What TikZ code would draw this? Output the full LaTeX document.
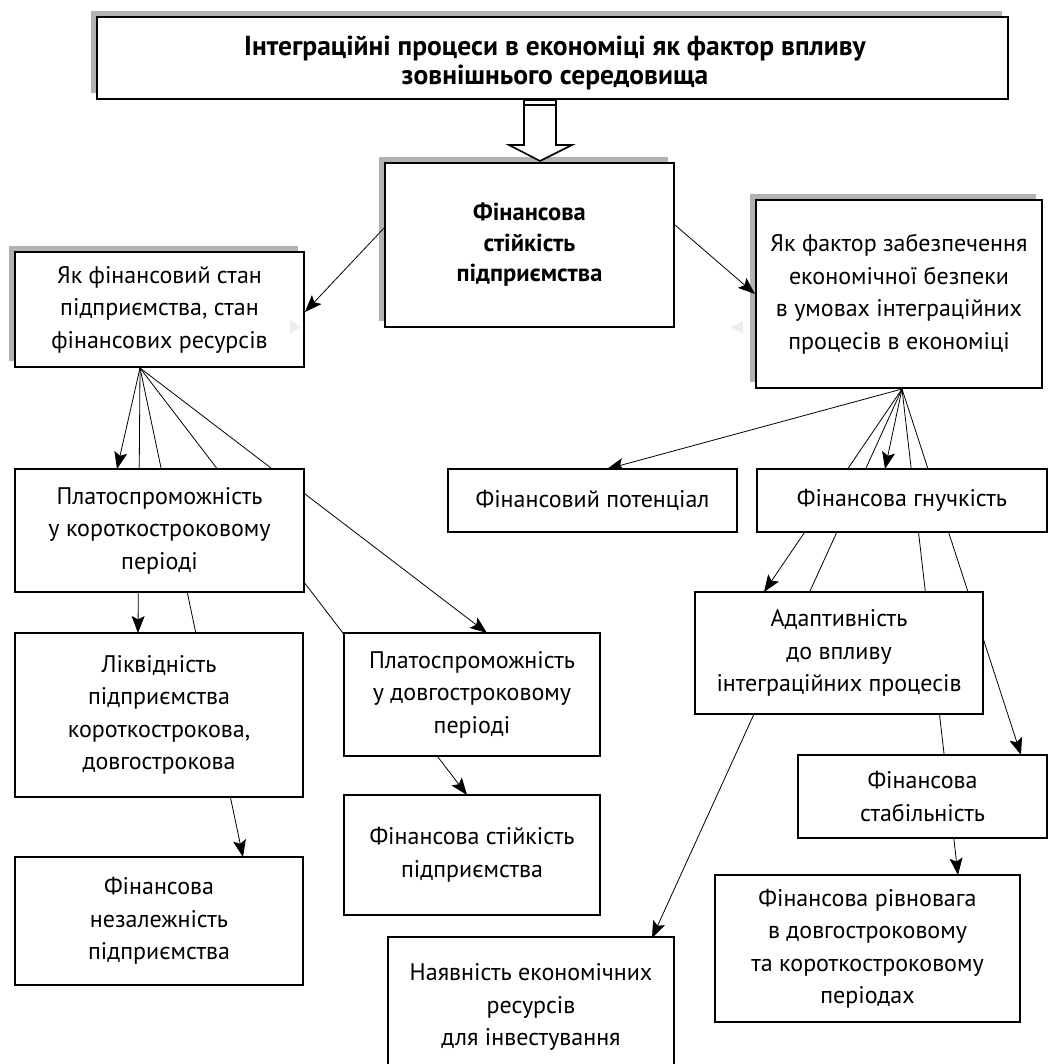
\documentclass[tikz,border=0pt]{standalone}
\usepackage{fontspec}
\setmainfont{PT Sans}
\usetikzlibrary{arrows.meta,shadows,calc}
\pgfdeclarelayer{background}
\pgfsetlayers{background,main}
\begin{document}
\begin{tikzpicture}[x=1pt,y=-1pt,
  txt/.style={font=\fontsize{24}{32.5}\selectfont},
  box/.style={draw=black, line width=2.2pt, fill=white, rectangle, inner sep=0pt, align=center, txt},
  shbox/.style={box, general shadow={fill=black!30, shadow xshift=-6pt, shadow yshift=6pt}},
  conn/.style={line width=0.8pt, black},
  arr/.style={conn, -{Stealth[length=17pt, width=13pt, inset=3.5pt]}},
  faint/.style={fill=black!7, draw=none}
]
\useasboundingbox (0,0) rectangle (1056,1064);

% boxes
\node[shbox, minimum width=911pt, minimum height=82pt] (T) at (552.5,58) {};
\node[align=center, inner sep=0pt, font=\bfseries\fontsize{27.5}{29}\selectfont] (Tt) at (555,63)
  {Інтеграційні процеси в економіці як фактор впливу\\зовнішнього середовища};
\node[shbox, minimum width=289pt, minimum height=164pt, font=\bfseries\fontsize{24.5}{30.5}\selectfont] (C) at (529.5,245)
  {Фінансова\\стійкість\\підприємства};
\node[shbox, minimum width=289pt, minimum height=115pt] (L1) at (159.5,309.5)
  {Як фінансовий стан\\підприємства, стан\\фінансових ресурсів};
\node[shbox, minimum width=286pt, minimum height=188pt] (R1) at (899,294)
  {Як фактор забезпечення\\економічної безпеки\\в умовах інтеграційних\\процесів в економіці};
\node[box, minimum width=289pt, minimum height=123pt] (P1) at (159.5,530.5)
  {Платоспроможність\\у короткостроковому\\періоді};
\node[box, minimum width=288pt, minimum height=164pt] (L2) at (159,715)
  {Ліквідність\\підприємства\\короткострокова,\\довгострокова};
\node[box, minimum width=288pt, minimum height=128pt] (N) at (159,921)
  {Фінансова\\незалежність\\підприємства};
\node[box, minimum width=256pt, minimum height=123pt] (P2) at (472,694.5)
  {Платоспроможність\\у довгостроковому\\періоді};
\node[box, minimum width=256pt, minimum height=120pt] (S) at (472,855)
  {Фінансова стійкість\\підприємства};
\node[box, minimum width=289pt, minimum height=63pt] (FP) at (592.5,500.5)
  {Фінансовий потенціал};
\node[box, minimum width=290pt, minimum height=63pt] (FG) at (902,500.5)
  {Фінансова гнучкість};
\node[box, minimum width=288pt, minimum height=122pt] (A) at (839,653)
  {Адаптивність\\до впливу\\інтеграційних процесів};
\node[box, minimum width=249pt, minimum height=83pt] (ST) at (922.5,796.5)
  {Фінансова\\стабільність};
\node[box, minimum width=305pt, minimum height=147pt] (R) at (867.5,948.5)
  {Фінансова рівновага\\в довгостроковому\\та короткостроковому\\періодах};
\node[box, minimum width=286pt, minimum height=140pt] (NV) at (531,1007)
  {Наявність економічних\\ресурсів\\для інвестування};

% connector anchor points
\coordinate (o1) at (140,368);
\coordinate (o2) at (902,389);
\coordinate (P1in) at (117,469);
\coordinate (L2in) at (138,633);
\coordinate (Nin) at (243,857);
\coordinate (Sin) at (467,795);
\coordinate (P2in) at (487,633);
\coordinate (FPin) at (607,469);
\coordinate (Ain) at (764,592);
\coordinate (NVin) at (652,938);
\coordinate (FGin) at (885,469);
\coordinate (Rin) at (958,875);
\coordinate (STin) at (1021,755);
\coordinate (Cl) at (385,227);
\coordinate (L1in) at (305,312);
\coordinate (Cr) at (675,225);
\coordinate (R1in) at (755,294);

\begin{pgfonlayer}{background}
  \draw[arr] (o1) -- (P1in);
  \draw[arr] (o1) -- (L2in);
  \draw[arr] (o1) -- (Nin);
  \draw[arr] (o1) -- (Sin);
  \draw[arr] (o1) -- (P2in);
  \draw[arr] (o2) -- (FPin);
  \draw[arr] (o2) -- (Ain);
  \draw[arr] (o2) -- (NVin);
  \draw[arr] (o2) -- (FGin);
  \draw[arr] (o2) -- (Rin);
  \draw[arr] (o2) -- (STin);
\end{pgfonlayer}
\draw[arr] (Cl) -- (L1in);
\draw[arr] (Cr) -- (R1in);

% hollow arrow from T to C
\coordinate (hA) at (540,99);
\coordinate (hB) at (540,161);
\draw[line width=1.6pt, fill=white, line join=miter]
  ($(hA)+(-16,0)$) -- ($(hA)+(-16,46)$) -- ($(hA)+(-31,46)$) -- (hB)
  -- ($(hA)+(32,46)$) -- ($(hA)+(16,46)$) -- ($(hA)+(16,0)$);
\draw[line width=1.2pt] ($(hA)+(-16,6)$) -- ($(hA)+(16,6)$);
\draw[line width=3pt] ($(hA)+(-16,1)$) -- ($(hA)+(16,1)$);

% faint marks
\fill[faint] (290,320) -- (290,334) -- (301,327) -- cycle;
\fill[faint] (743,321) -- (743,334) -- (731,327.5) -- cycle;
\end{tikzpicture}
\end{document}
